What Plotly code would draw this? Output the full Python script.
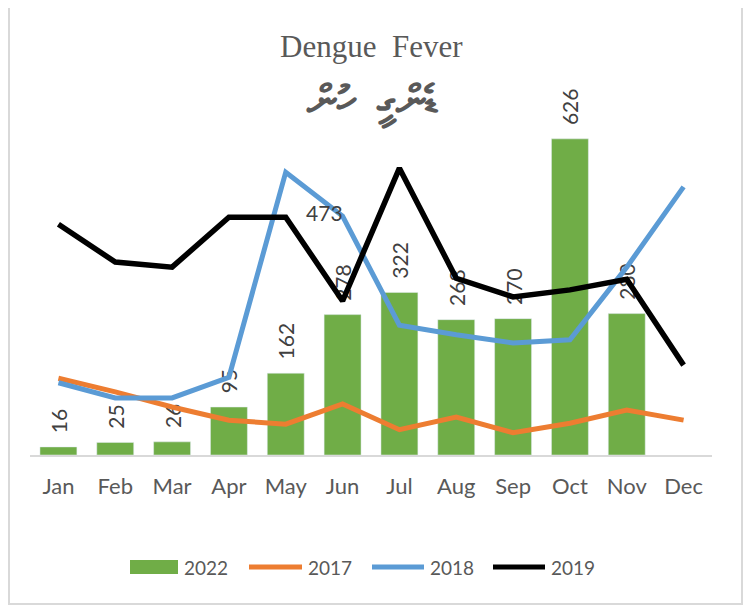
import plotly.graph_objects as go

months = ["Jan", "Feb", "Mar", "Apr", "May", "Jun", "Jul", "Aug", "Sep", "Oct", "Nov", "Dec"]
cases_2022 = [16, 25, 26, 95, 162, 278, 322, 268, 270, 626, 280, None]
cases_2017 = [152, 125, 95, 69, 61, 101, 50, 75, 44, 63, 89, 69]
cases_2018 = [143, 113, 113, 154, 560, 473, 257, 238, 222, 228, 372, 531]
cases_2019 = [457, 382, 372, 471, 471, 305, 568, 350, 313, 327, 348, 178]
labels_2018 = ["", "", "", "", "", "473", "", "", "", "", "", ""]

FONT = "Lato"
TXT = "#595959"

# page body has an 8px margin: work in window px and convert to figure px
OFF = 8
FW, FH = 751 - OFF, 605 - OFF
L, R, T, B = 30 - OFF, 712 - OFF, 90 - OFF, 455 - OFF  # plot area in figure px
W, H = R - L, B - T
def px(x):  # window px -> paper x
    return (x - OFF - L) / W
def py(y):  # window px -> paper y
    return (B - (y - OFF)) / H

fig = go.Figure()
fig.add_trace(go.Bar(
    x=months, y=cases_2022, name="2022", marker_color="#70AD47",
    text=["\u00a0\u00a0" + str(v) if v is not None else "" for v in cases_2022],
    textposition="outside", textangle=-90, constraintext="none",
    cliponaxis=False, showlegend=False,
    textfont=dict(family=FONT, size=21, color="#404040"),
))
fig.add_trace(go.Scatter(x=months, y=cases_2017, name="2017", mode="lines", showlegend=False,
                         line=dict(color="#ED7D31", width=5)))
fig.add_trace(go.Scatter(x=months, y=cases_2018, name="2018", mode="lines+text", showlegend=False,
                         text=labels_2018, textposition="middle left", cliponaxis=False,
                         textfont=dict(family=FONT, size=21, color="#404040"),
                         line=dict(color="#5B9BD5", width=5)))
fig.add_trace(go.Scatter(x=months, y=cases_2019, name="2019", mode="lines", showlegend=False,
                         line=dict(color="#000000", width=5.5)))

# custom legend (wide swatches like the original)
legend_items = [("2022", "#70AD47", "rect", 130, 178),
                ("2017", "#ED7D31", "line", 249, 302),
                ("2018", "#5B9BD5", "line", 372, 424),
                ("2019", "#000000", "line", 493, 545)]
LEG_Y = 567
shapes = [dict(type="rect", xref="paper", yref="paper",
               x0=px(9), x1=px(742), y0=py(604), y1=py(1),
               line=dict(color="#d9d9d9", width=2), layer="below")]
annotations = [
    dict(text="Dengue  Fever", x=0.5, xref="paper", y=py(46), yref="paper", showarrow=False,
         xanchor="center", yanchor="middle",
         font=dict(family="Liberation Serif", size=31, color=TXT)),
    dict(text="<b>ޑެންގީ\u2002ހުން</b>", x=px(372), xref="paper", y=py(104), yref="paper",
         showarrow=False, xanchor="center", yanchor="middle",
         font=dict(family="Liberation Serif", size=42, color=TXT)),
]
for name, col, kind, x0, x1 in legend_items:
    if kind == "rect":
        shapes.append(dict(type="rect", xref="paper", yref="paper", x0=px(x0), x1=px(x1),
                           y0=py(LEG_Y + 7), y1=py(LEG_Y - 7), fillcolor=col, line=dict(width=0)))
    else:
        shapes.append(dict(type="line", xref="paper", yref="paper", x0=px(x0), x1=px(x1),
                           y0=py(LEG_Y), y1=py(LEG_Y), line=dict(color=col, width=5)))
    annotations.append(dict(text=name, x=px(x1 + 4), xref="paper", xanchor="left",
                            y=py(LEG_Y), yref="paper", yanchor="middle", showarrow=False,
                            font=dict(family=FONT, size=19, color=TXT)))

fig.update_layout(
    width=FW, height=FH,
    margin=dict(l=L, r=FW - R, t=T, b=FH - B, autoexpand=False),
    paper_bgcolor="white", plot_bgcolor="white",
    bargap=0.35,
    showlegend=False,
    xaxis=dict(showline=True, linecolor="#d9d9d9", linewidth=1.5, ticks="",
               range=[-0.5, len(months) - 0.5], ticklabelstandoff=11,
               tickfont=dict(family=FONT, size=22, color=TXT),
               showgrid=False, zeroline=False, automargin=False),
    yaxis=dict(range=[0, (B - T) / 0.505], visible=False, showgrid=False, zeroline=False,
               automargin=False),
    shapes=shapes,
    annotations=annotations,
)

fig.write_html("out.html")
